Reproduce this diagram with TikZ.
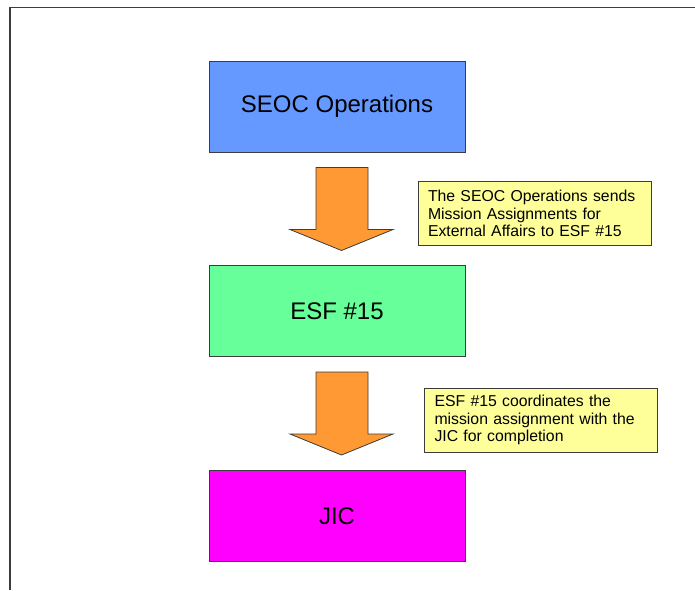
\documentclass[tikz,border=0pt]{standalone}
\usepackage{fontspec}
\setmainfont{Liberation Sans}
\definecolor{StepBlue}{RGB}{102,153,255}
\definecolor{StepGreen}{RGB}{102,255,153}
\definecolor{StepMagenta}{RGB}{255,0,255}
\definecolor{ArrowOrange}{RGB}{255,153,51}
\definecolor{NoteYellow}{RGB}{255,255,153}
\definecolor{EdgeGray}{RGB}{60,60,60}
\usepackage{tikz}
\usetikzlibrary{positioning,calc}

\begin{document}
\begin{tikzpicture}[x=1pt,y=-1pt,
    stepbox/.style={draw=EdgeGray,line width=1pt,minimum width=256pt,minimum height=91pt,inner sep=0pt,font=\fontsize{24}{28}\selectfont},
    notebox/.style={draw=EdgeGray,line width=0.8pt,fill=NoteYellow,minimum width=233pt,minimum height=64pt,inner sep=0pt,text width=213pt,align=left,font=\fontsize{15.8}{17.5}\selectfont},
    blockarrow/.style={draw=EdgeGray,line width=0.8pt,fill=ArrowOrange,line join=miter}]
        \useasboundingbox (0,0) rectangle (695,590);
        % draw frame
        \draw[EdgeGray,line width=1.3pt] (10,590) -- (10,7.5) -- (695,7.5);
        % steps
        \node[stepbox,fill=StepBlue] at (337,106.5) (seoc) {SEOC Operations};
        \node[stepbox,fill=StepGreen] at (337,311) (esf) {ESF \#15};
        \node[stepbox,fill=StepMagenta] at (337,516) (jic) {JIC};
        % notes
        \node[notebox] at (534.5,213.5) (note1) {The SEOC Operations sends\\Mission Assignments for\\External Affairs to ESF \#15};
        \node[notebox] at (541,420) (note2) {ESF \#15 coordinates the\\mission assignment with the\\JIC for completion};
        % block arrows between the steps
        \foreach \a in {seoc,esf} {
            \draw[blockarrow,shift={(\a.south)}] (-21,15) -- (31,15) -- (31,77) -- (56,77)
                -- (4.5,98) -- (-47,77) -- (-21,77) -- cycle;
        }
    \end{tikzpicture}
\end{document}
